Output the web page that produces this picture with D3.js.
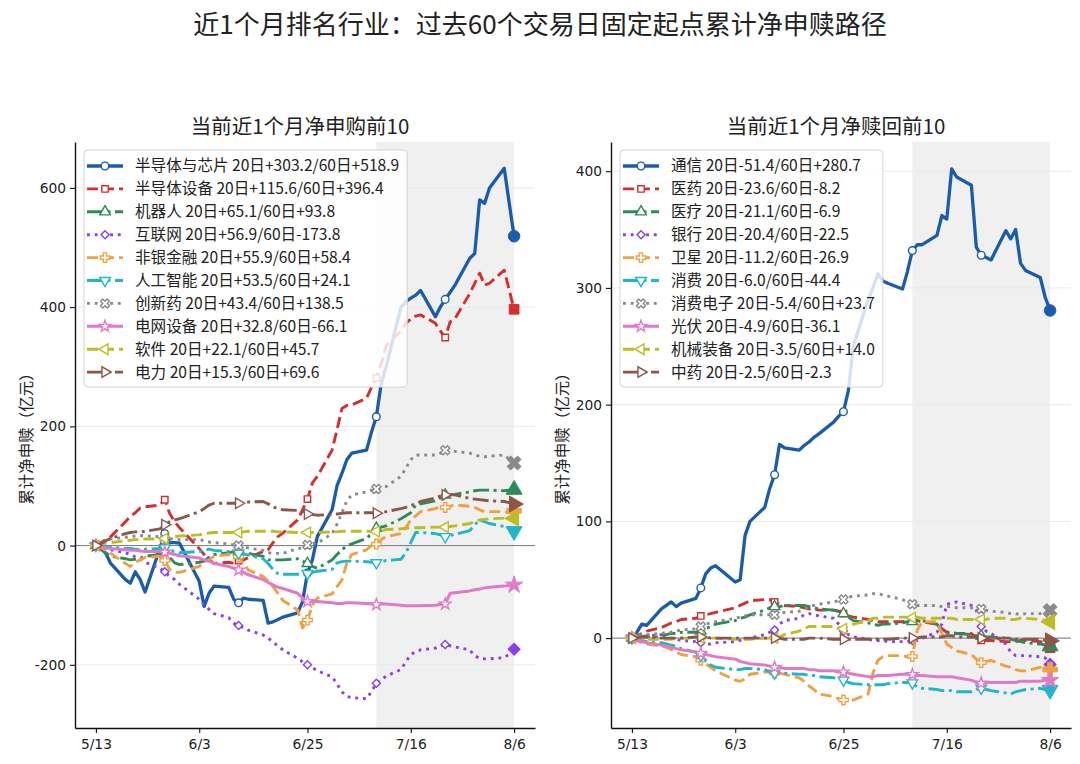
<!DOCTYPE html>
<html><head><meta charset="utf-8">
<script src="https://cdn.jsdelivr.net/npm/d3@7"></script>
<style>
body{margin:0;background:#fff;}
svg{display:block;font-family:"Noto Sans CJK SC","Noto Sans",sans-serif;}
</style>
</head><body>
<svg id="chart" width="1080" height="764"></svg>
<script>
// ---------------- DATA ----------------
const dates = ["2025-05-13","2025-05-14","2025-05-15","2025-05-16","2025-05-19","2025-05-20","2025-05-21","2025-05-22","2025-05-23",
"2025-05-26","2025-05-27","2025-05-28","2025-05-29","2025-05-30","2025-06-03","2025-06-04","2025-06-05","2025-06-06",
"2025-06-09","2025-06-10","2025-06-11","2025-06-12","2025-06-13","2025-06-16","2025-06-17","2025-06-18","2025-06-19","2025-06-20",
"2025-06-23","2025-06-24","2025-06-25","2025-06-26","2025-06-27","2025-06-30","2025-07-01","2025-07-02","2025-07-03","2025-07-04",
"2025-07-07","2025-07-08","2025-07-09","2025-07-10","2025-07-11","2025-07-14","2025-07-15","2025-07-16","2025-07-17","2025-07-18",
"2025-07-21","2025-07-22","2025-07-23","2025-07-24","2025-07-25","2025-07-28","2025-07-29","2025-07-30","2025-07-31","2025-08-01",
"2025-08-04","2025-08-05","2025-08-06"];
const xTickDates = ["2025-05-13","2025-06-03","2025-06-25","2025-07-16","2025-08-06"];
const shadeStartDate = "2025-07-09";

const mainTitle = "近1个月排名行业：过去60个交易日固定起点累计净申赎路径";
const leftTitle = "当前近1个月净申购前10";
const rightTitle = "当前近1个月净赎回前10";
const yLabel = "累计净申赎（亿元）";
const leftYTicks = [-200, 0, 200, 400, 600];
const rightYTicks = [0, 100, 200, 300, 400];

const leftNames = ["半导体与芯片","半导体设备","机器人","互联网","非银金融","人工智能","创新药","电网设备","软件","电力"];
const left20 = ["+303.2","+115.6","+65.1","+56.9","+55.9","+53.5","+43.4","+32.8","+22.1","+15.3"];
const left60 = ["+518.9","+396.4","+93.8","-173.8","+58.4","+24.1","+138.5","-66.1","+45.7","+69.6"];

const rightNames = ["通信","医药","医疗","银行","卫星","消费","消费电子","光伏","机械装备","中药"];
const right20 = ["-51.4","-23.6","-21.1","-20.4","-11.2","-6.0","-5.4","-4.9","-3.5","-2.5"];
const right60 = ["+280.7","-8.2","-6.9","-22.5","-26.9","-44.4","+23.7","-36.1","+14.0","-2.3"];

// left panel series (亿元)
const L1 = [0,-5,-13,-30,-57,-63,-44,-57,-78,-5,20,5,5,4,-60,-102,-80,-68,-70,-90,-96,-88,-90,-92,-130,-128,-124,-120,-113,-94,-46,-24,15,60,100,121,144,155,160,190,216,272,300,400,409,415,420,428,384,400,413,425,437,482,490,580,574,600,633,575,518.9];
const L2 = [0,5,10,15,40,49,55,63,65,68,77,54,40,30,-5,-15,-24,-30,-28,-30,-25,-24,-20,-10,-7,5,15,21,43,60,78,105,116,160,194,230,235,236,247,265,281,305,335,360,373,380,385,387,373,360,349,375,381,423,440,457,437,440,462,429,396.4];
const L3 = [0,-5,-12,-18,-22,-24,-23,-21,-18,-15,-8,-20,-29,-32,-28,-26,-20,-15,-12,-10,-10,-12,-13,-18,-24,-24,-24,-24,-22,-26,-30,-35,-38,-24,-15,-7,0,3,12,20,29,31,33,45,50,55,68,70,75,80,85,85,86,90,92,93,93,93,92,93,93.8];
const L4 = [0,-3,-5,-7,-12,-15,-19,-22,-28,-38,-44,-52,-57,-65,-90,-100,-107,-114,-121,-130,-134,-138,-142,-150,-155,-162,-168,-175,-189,-195,-200,-205,-210,-220,-232,-245,-253,-255,-257,-245,-231,-225,-219,-208,-195,-183,-178,-175,-172,-168,-166,-168,-170,-175,-185,-189,-190,-190,-188,-182,-173.8];
const L5 = [0,-3,-8,-13,-30,-35,-28,-24,-20,-18,-25,-40,-45,-45,-35,-28,-24,-18,-15,-17,-19,-30,-41,-52,-60,-69,-80,-92,-108,-138,-125,-100,-88,-81,-69,-58,-29,-15,-7,0,2.5,10,15,20,30,43,50,57,62,66,64,66,68,66,64,60,57,57,57,55,58.4];
const L6 = [0,0,-2,-3,-5,-5,-6,-7,-6,-5,-4,-8,-10,-12,-10,-8,-6,-8,-10,-12,-13,-14,-16,-22,-30,-40,-47,-48,-48,-47,-47,-45,-43,-40,-29,-27,-26,-26,-27,-28,-29,-27,-25,-23,-12,5,22,22,20,18,15,17,19,25,35,43,40,37,32,30,24.1];
const L7 = [0,5,10,11,14,15,16,17,16,15,10,12,10,10,10,8,6,5,3,1,0,-2,-4,-8,-12,-13,-13,-13,-5,-4,1,3,4,20,36,55,75,85,90,93,95,97,99,116,130,144,152,152,152,155,160,159,158,155,152,150,149,150,152,145,138.5];
const L8 = [0,-2,-4,-5,-7,-8,-8,-9,-10,-10,-11,-13,-15,-17,-21,-24,-26,-30,-35,-38,-41,-45,-49,-57,-62,-66,-70,-72,-80,-88,-94,-94,-94,-96,-97,-97,-96,-96,-97,-98,-98.9,-98,-98,-100,-101,-101,-101,-101,-100,-99,-98,-80,-79,-76,-74,-73,-71,-70,-68,-67,-66.1];
const L9 = [0,2,4,5,8,9,10,10,11,11,12,14,15,16,18,20,21,22,22,22,22,23,24,24,24,24,23,23,22,22,22,22,22,23,23,24,24,24,24,24,23.6,25,27,28,29,30,30,30,31,31,31,32,33,37,40,43,44,45,46,47,45.7];
const L10 = [0,3,8,12,20,22,23,23,24,28,35,40,43,45,57,62,68,71,71,71,71,72,73,74,70,65,62,60,59,57,53,52,51,52,53,54,55,55,55,55,54.3,56,57,62,64,67,70,74,80,83,85,85,85,79,78,77,76,75,74,72,69.6];

// right panel series (亿元)
const R1 = [0,5,12,11,25,28,31,27,30,34,43,55,60,62,48,50,88,100,112,128,140,166,163,161,165,168,172,175,185,190,194,212,250,290,300,312,306,304,299,314,332,337,337,345,362,359,402,395,388,335,328,326,324,349,342,350,321,315,309,292,280.7];
const R2 = [0,2,4,6,9,11,13,14,16,17,19,20,21,22,26,28,30,32,33,33,31,29,28,27,26,25,25,24,24,23,21,19,18,16,15,14,14,14,14,15,15.4,15,14,12,8,5,5,4,4,0,-2,-2,-2,-3,-3,-3,-2,-2,-3,-4,-8.2];
const R3 = [0,1,1,2,3,3,4,4,5,5,6,8,10,12,15,17,18,20,24,26,27,27,28,28,28,27,26,25,24,23,21,18,15,13,12,11,12,12,13,14,14.2,15,15,12,6,5,4,4,3,2,2,1,1,0,-1,-2,-3,-4,-5,-6,-6.9];
const R4 = [0,0,1,1,1,1,0,-1,-2,-3,-4,-5,-5,-4,-3,-2,-1,0,3,5,7,12,15,17,20,21,20,19,17,12,6,3,1,-1,-2,-2,-2,-3,-3,-3,-2.1,-2,0,5,12,29,30,31,28,24,10,6,4,-5,-12,-15,-15,-15,-16,-17,-22.5];
const R5 = [0,-2,-4,-5,-7,-8,-10,-12,-14,-16,-19,-22,-25,-28,-36,-37,-35,-31,-29,-29,-30,-30,-31,-34,-37,-41,-44,-48,-50,-52,-53,-53,-53,-48,-30,-19,-16,-15,-15,-16,-15.7,7,14,14,4,-5,-8,-11,-14,-18,-21,-20,-19,-24,-25,-27,-28,-28,-25,-24,-26.9];
const R6 = [0,-1,-2,-3,-4,-5,-6,-7,-9,-12,-15,-19,-23,-25,-27,-27,-26,-26,-27,-29,-30,-30,-30,-31,-31,-32,-32,-33,-34,-35,-36,-38,-39,-40,-40,-40,-40,-39,-38,-38,-38.4,-42,-43,-44,-45,-45,-45,-46,-46,-44,-43,-44,-45,-47,-48,-46,-45,-44,-43,-44,-44.4];
const R7 = [0,2,3,3,4,5,5,6,7,8,10,12,13,14,17,18,19,20,20,20,20,21,22,23,25,27,28,29,31,32,33,35,36,37,38,38,37,36,33,31,29.1,28,28,28,27,27,27,26,26,25,25,24,23,22,21,21,20,21,21,22,23.7];
const R8 = [0,-2,-3,-4,-6,-7,-8,-9,-10,-12,-13,-14,-15,-16,-18,-20,-21,-22,-23,-24,-25,-25,-26,-26,-26,-27,-27,-28,-28,-29,-29,-30,-31,-33,-33,-32,-32,-32,-31,-31,-31.2,-32,-32,-33,-33,-33,-33,-34,-36,-38,-38.6,-38,-38,-38,-38,-38,-37,-37,-37,-36,-36.1];
const R9 = [0,0,0,-1,-1,-1,-1,0,0,0,0,0,0,0,-1,-1,-1,-1,0,0,0,1,3,6,8,10,10,10,10,9,8,10,12,15,17,17,18,18,18,18,17.5,18,17,17,17,17,17,16,16,16,16,16,17,17,16,16,17,17,16,15,14.0];
const R10 = [0,0,1,1,0,0,0,0,0,1,1,1,0,0,0,0,0,0,0,0,0,0,-1,-1,-1,0,0,0,-1,-1,-1,-1,-1,-1,-1,-1,-1,-1,0,0,0.2,0,1,1,1,2,2,1,1,1,0,0,0,0,0,-1,-1,-1,-1,-2,-2.3];

const leftSeries = [L1,L2,L3,L4,L5,L6,L7,L8,L9,L10];
const rightSeries = [R1,R2,R3,R4,R5,R6,R7,R8,R9,R10];

// ---------------- STYLE ----------------
const styles = [
  {color:"#1a5cab", dash:null,        w:3.3, sym:"o"},
  {color:"#d32f2f", dash:"11,5",      w:2.9, sym:"s"},
  {color:"#2e8b57", dash:"16,4.5,3,4.5", w:2.9, sym:"^"},
  {color:"#8a3ff0", dash:"2.9,4.8",   w:2.9, sym:"D"},
  {color:"#f0a040", dash:"11,5",      w:2.9, sym:"P"},
  {color:"#1fb6cb", dash:"16,4.5,3,4.5", w:2.9, sym:"v"},
  {color:"#8a8a8a", dash:"2.9,4.8",   w:2.9, sym:"X"},
  {color:"#e07ac8", dash:null,        w:3.0, sym:"*"},
  {color:"#bcbd22", dash:"11,5",      w:2.9, sym:"<"},
  {color:"#8c564b", dash:"16,4.5,3,4.5", w:2.9, sym:">"}
];
const numFont = "\"DejaVu Sans\",\"Noto Sans CJK SC\",sans-serif";

const parse = d3.timeParse("%Y-%m-%d");
const dateObjs = dates.map(parse);

function symbolPath(sym, size) {
  const map = {
    "o": [d3.symbolCircle, 0, 1],
    "s": [d3.symbolSquare, 0, 0.9],
    "^": [d3.symbolTriangle, 0, 1.05],
    "v": [d3.symbolTriangle, 180, 1.05],
    "<": [d3.symbolTriangle, -90, 1.05],
    ">": [d3.symbolTriangle, 90, 1.05],
    "D": [d3.symbolSquare, 45, 0.7],
    "P": [d3.symbolCross, 0, 1.1],
    "X": [d3.symbolCross, 45, 1.1],
    "*": [d3.symbolStar, 0, 0.9]
  };
  const m = map[sym];
  return {d: d3.symbol().type(m[0]).size(size * m[2])(), rot: m[1]};
}

const svg = d3.select("#chart");

svg.append("text").attr("x", 540).attr("y", 34).attr("text-anchor", "middle")
  .attr("font-size", 26).attr("fill", "#222").text(mainTitle);

function drawPanel(cfg) {
  const g = svg.append("g");
  const x0 = dateObjs[0], x1 = dateObjs[dateObjs.length - 1];
  const span = x1 - x0;
  const x = d3.scaleTime()
    .domain([new Date(+x0 - span * 0.05), new Date(+x1 + span * 0.05)])
    .range([cfg.left, cfg.right]);
  const y = d3.scaleLinear().domain(cfg.yDomain).range([cfg.bottom, cfg.top]);

  // shading: last 20 trading days
  g.append("rect")
    .attr("x", x(parse(shadeStartDate))).attr("y", cfg.top)
    .attr("width", x(x1) - x(parse(shadeStartDate))).attr("height", cfg.bottom - cfg.top)
    .attr("fill", "#f0f0f0");

  // grid
  g.selectAll(".grid").data(cfg.yTicks).enter().append("line")
    .attr("x1", cfg.left).attr("x2", cfg.right)
    .attr("y1", d => y(d)).attr("y2", d => y(d))
    .attr("stroke", "#e9e9e9").attr("stroke-width", 1);

  // zero line
  g.append("line").attr("x1", cfg.left).attr("x2", cfg.right)
    .attr("y1", y(0)).attr("y2", y(0)).attr("stroke", "#7a7a7a").attr("stroke-width", 1);

  const line = d3.line().x((d, i) => x(dateObjs[i])).y(d => y(d));

  cfg.series.forEach((vals, si) => {
    const st = styles[si];
    g.append("path").datum(vals).attr("d", line)
      .attr("fill", "none").attr("stroke", st.color).attr("stroke-width", st.w)
      .attr("stroke-linejoin", "round")
      .attr("stroke-dasharray", st.dash);
    const hollowIdx = [0, 10, 20, 30, 40, 50];
    hollowIdx.forEach(i => {
      const sp = symbolPath(st.sym, 46);
      g.append("path").attr("d", sp.d)
        .attr("transform", `translate(${x(dateObjs[i])},${y(vals[i])}) rotate(${sp.rot})`)
        .attr("fill", "#fff").attr("stroke", st.color).attr("stroke-width", 1.4);
    });
    const last = vals.length - 1;
    const sp = symbolPath(st.sym, 105);
    g.append("path").attr("d", sp.d)
      .attr("transform", `translate(${x(dateObjs[last])},${y(vals[last])}) rotate(${sp.rot})`)
      .attr("fill", st.color).attr("stroke", st.color).attr("stroke-width", 1);
  });

  // axes
  const xAxis = d3.axisBottom(x).tickValues(xTickDates.map(parse))
    .tickFormat(d3.timeFormat("%-m/%-d")).tickSizeInner(5).tickSizeOuter(0).tickPadding(6);
  const ax = g.append("g").attr("transform", `translate(0,${cfg.bottom})`).call(xAxis);
  const yAxis = d3.axisLeft(y).tickValues(cfg.yTicks).tickFormat(d => String(d))
    .tickSizeInner(5).tickSizeOuter(0).tickPadding(4);
  const ay = g.append("g").attr("transform", `translate(${cfg.left},0)`).call(yAxis);
  [ax, ay].forEach(a => {
    a.select(".domain").attr("stroke", "#111").attr("stroke-width", 1.4);
    a.selectAll(".tick line").attr("stroke", "#111").attr("stroke-width", 1.1);
    a.selectAll(".tick text").attr("font-size", 13.8).attr("fill", "#222")
      .attr("font-family", numFont);
  });

  // titles
  g.append("text").attr("x", (cfg.left + cfg.right) / 2 - 5).attr("y", 134)
    .attr("text-anchor", "middle").attr("font-size", 20.5).attr("fill", "#222").text(cfg.title);
  g.append("text").attr("transform", `translate(${cfg.left - 48},${(cfg.top + cfg.bottom) / 2}) rotate(-90)`)
    .attr("text-anchor", "middle").attr("dy", "0.35em").attr("font-size", 15.5).attr("fill", "#222").text(yLabel);

  // legend
  const lg = g.append("g");
  const lx = cfg.left + 9, ly = 150;
  const rowH = 22.9;
  const labels = cfg.names.map((n, i) => `${n} 20日${cfg.c20[i]}/60日${cfg.c60[i]}`);
  const box = lg.append("rect").attr("x", lx).attr("y", ly).attr("rx", 4).attr("ry", 4)
    .attr("fill", "#fff").attr("fill-opacity", 0.82).attr("stroke", "#d4d4d4").attr("stroke-width", 1);
  let maxW = 0;
  labels.forEach((lab, i) => {
    const cy = ly + 16 + i * rowH;
    const st = styles[i];
    lg.append("line").attr("x1", lx + 3).attr("x2", lx + 39).attr("y1", cy).attr("y2", cy)
      .attr("stroke", st.color).attr("stroke-width", st.w).attr("stroke-dasharray", st.dash);
    const sp = symbolPath(st.sym, 46);
    lg.append("path").attr("d", sp.d)
      .attr("transform", `translate(${lx + 21},${cy}) rotate(${sp.rot})`)
      .attr("fill", "#fff").attr("stroke", st.color).attr("stroke-width", 1.4);
    const t = lg.append("text").attr("x", lx + 51).attr("y", cy).attr("dy", "0.35em")
      .attr("font-size", 15.6).attr("fill", "#222").text(lab);
    maxW = Math.max(maxW, t.node().getComputedTextLength());
  });
  box.attr("width", 51 + maxW + 8).attr("height", rowH * 10 + 8);
}

drawPanel({left: 75, right: 535, top: 142, bottom: 728, yDomain: [-306, 677], yTicks: leftYTicks,
  series: leftSeries, names: leftNames, c20: left20, c60: left60, title: leftTitle});
drawPanel({left: 611, right: 1071, top: 142, bottom: 728, yDomain: [-77, 425], yTicks: rightYTicks,
  series: rightSeries, names: rightNames, c20: right20, c60: right60, title: rightTitle});
</script>
</body></html>
